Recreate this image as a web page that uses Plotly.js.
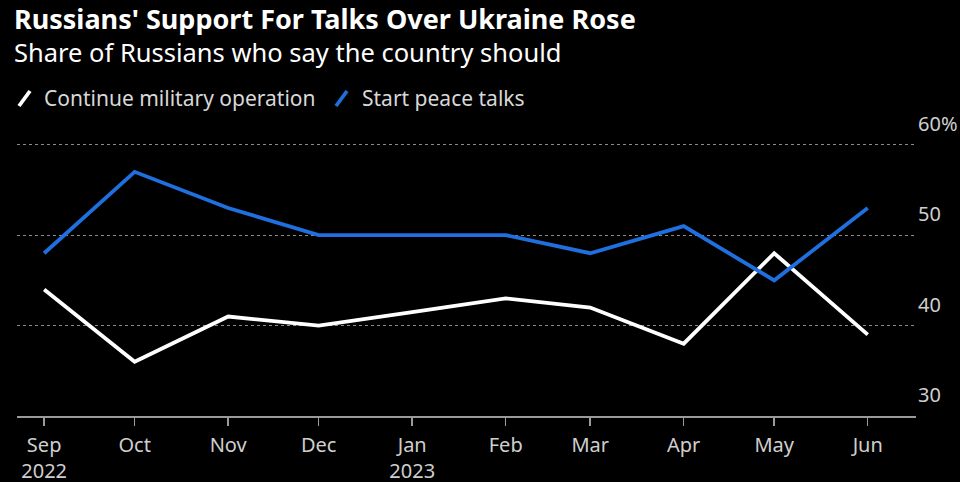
<!DOCTYPE html>
<html>
<head>
<meta charset="utf-8">
<script src="https://cdn.plot.ly/plotly-3.0.1.min.js"></script>
<style>html,body{margin:0;padding:0;background:#000;}#chart{width:960px;height:482px;}</style>
</head>
<body>
<div id="chart"></div>
<script>
const months = ["2022-09-01","2022-10-01","2022-11-01","2022-12-01","2023-01-01","2023-02-01","2023-03-01","2023-04-01","2023-05-01","2023-06-01"];
const continueMilitary = [44, 36, 41, 40, 41.5, 43, 42, 38, 48, 39];
const startPeaceTalks = [48, 57, 53, 50, 50, 50, 48, 51, 45, 53];
const xTickLabels = ["Sep<br>2022","Oct","Nov","Dec","Jan<br>2023","Feb","Mar","Apr","May","Jun"];
const yTickVals = [30, 40, 50, 60];
const yTickLabels = ["30","40","50","60%"];
const seriesNames = ["Continue military operation", "Start peace talks"];

const FONT = "'Noto Sans', 'Open Sans', sans-serif";
const BLUE = "#1f6fde";

const traces = [
  {x: months, y: continueMilitary, name: seriesNames[0], type: "scatter", mode: "lines",
   line: {color: "#ffffff", width: 3.8}, hoverinfo: "skip"},
  {x: months, y: startPeaceTalks, name: seriesNames[1], type: "scatter", mode: "lines",
   line: {color: BLUE, width: 3.8}, hoverinfo: "skip"}
];

const M = {l: 17, r: 44, t: 142, b: 66};
const layout = {
  width: 960, height: 482,
  paper_bgcolor: "#000", plot_bgcolor: "#000",
  margin: M,
  showlegend: false,
  font: {family: FONT, color: "#cfcfcf", size: 21},
  xaxis: {
    type: "date",
    range: ["2022-08-23", "2023-06-17"],
    tickvals: months, ticktext: xTickLabels,
    ticks: "outside", ticklen: 8, tickcolor: "#9a9a9a", tickwidth: 1.5,
    ticklabelstandoff: 2,
    showline: true, linecolor: "#9a9a9a", linewidth: 1.5,
    showgrid: false, zeroline: false, fixedrange: true,
    tickfont: {size: 20, color: "#cfcfcf", family: FONT}
  },
  yaxis: {
    side: "right", range: [30, 60.3],
    tickvals: yTickVals, ticktext: yTickLabels,
    ticks: "", ticklabelposition: "outside", ticklabelshift: -21, ticklabelstandoff: 1,
    showgrid: true, gridcolor: "#8a8a8a", griddash: "dot", gridwidth: 1,
    showline: false, zeroline: false, fixedrange: true,
    tickfont: {size: 20, color: "#cfcfcf", family: FONT}
  },
  annotations: [],
  shapes: []
};

const plotH = 482 - M.t - M.b, plotW = 960 - M.l - M.r;
function py(pix) { return (482 - M.b - pix) / plotH; }
function px(pix) { return (pix - M.l) / plotW; }
function note(text, x, y, size, color) {
  layout.annotations.push({text: text, xref: "paper", yref: "paper", x: px(x), y: py(y),
    xanchor: "left", yanchor: "middle", showarrow: false, borderpad: 0,
    font: {size: size, color: color, family: FONT}});
}
note("<b>Russians' Support For Talks Over Ukraine Rose</b>", 13, 18, 27, "#ffffff");
note("Share of Russians who say the country should", 13, 52, 25.5, "#ffffff");
note(seriesNames[0], 43, 98, 21, "#d8d8d8");
note(seriesNames[1], 361, 98, 21, "#d8d8d8");
layout.shapes.push(
  {type: "line", xref: "paper", yref: "paper", x0: px(19), y0: py(106), x1: px(30), y1: py(91),
   line: {color: "#ffffff", width: 3.8}},
  {type: "line", xref: "paper", yref: "paper", x0: px(336), y0: py(106), x1: px(347), y1: py(91),
   line: {color: BLUE, width: 3.8}}
);

Plotly.newPlot("chart", traces, layout, {displayModeBar: false, staticPlot: true});
</script>
</body>
</html>
